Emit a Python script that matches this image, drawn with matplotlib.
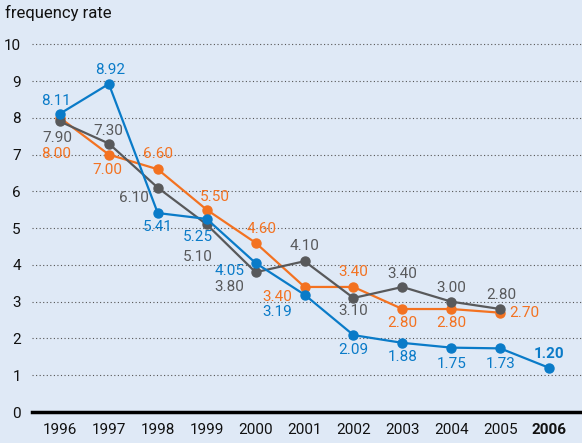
import matplotlib.pyplot as plt

plt.rcParams['font.family'] = ['Roboto', 'DejaVu Sans']

# --- data ---
years = [1996, 1997, 1998, 1999, 2000, 2001, 2002, 2003, 2004, 2005, 2006]
year_labels = [str(y) for y in years]

blue_vals = [8.11, 8.92, 5.41, 5.25, 4.05, 3.19, 2.09, 1.88, 1.75, 1.73, 1.20]
gray_vals = [7.90, 7.30, 6.10, 5.10, 3.80, 4.10, 3.10, 3.40, 3.00, 2.80]
orange_vals = [8.00, 7.00, 6.60, 5.50, 4.60, 3.40, 3.40, 2.80, 2.80, 2.70]

# label offsets in pixels (dx, dy) relative to each point
blue_off = [(-4, 13), (1, 14), (0, -14), (-9, -18), (-26, -8), (-27, -17),
            (0, -15), (0, -14), (0, -16), (0, -16), (0, 14)]
gray_off = [(-3, -17), (-1, 13), (-24, -10), (-9, -33), (-26, -15), (0, 15),
            (0, -13), (0, 13), (0, 14), (1, 14)]
orange_off = [(-4, -36), (-1, -15), (0, 15), (8, 13), (6, 14), (-27, -10),
              (0, 15), (0, -14), (0, -14), (9, 0)]

BLUE = '#0a7bc8'
GRAY = '#58595b'
ORANGE = '#f37221'
BG = '#dfe9f6'

fig = plt.figure(figsize=(5.82, 4.43), dpi=100)
fig.patch.set_facecolor(BG)
ax = fig.add_axes([32 / 582, 31 / 443, 550 / 582, 0.880])
ax.set_facecolor(BG)

series = [
    (orange_vals, ORANGE, orange_off),
    (gray_vals, GRAY, gray_off),
    (blue_vals, BLUE, blue_off),
]
for z, (vals, col, offs) in enumerate(series):
    xs = years[:len(vals)]
    ax.plot(xs, vals, color=col, lw=1.6, marker='o', ms=6.5, zorder=3 + z,
            clip_on=False)
    for i, (x, v) in enumerate(zip(xs, vals)):
        dx, dy = offs[i]
        ha = 'left' if (col == ORANGE and i == len(vals) - 1) else 'center'
        bold = (col == BLUE and i == len(vals) - 1)
        ax.annotate(f'{v:.2f}', (x, v), xytext=(dx, dy),
                    textcoords='offset pixels', ha=ha, va='center',
                    color=col, fontsize=11,
                    fontweight='bold' if bold else 'normal', zorder=10)

ax.set_xlim(1995.43, 2006.67)
ax.set_ylim(0, 10.6)
ax.set_yticks(range(0, 11))
ax.set_xticks(years)
ax.set_xticklabels(year_labels)
ax.get_xticklabels()[-1].set_fontweight('bold')
ax.tick_params(axis='both', length=0, labelsize=11, colors='#111111')
ax.tick_params(axis='y', pad=8)
ax.tick_params(axis='x', pad=8)

ax.yaxis.grid(True, linestyle=(0, (1, 2.2)), color='#555555', lw=0.8)
ax.set_axisbelow(True)
for s in ['top', 'right', 'left']:
    ax.spines[s].set_visible(False)
ax.spines['bottom'].set_color('black')
ax.spines['bottom'].set_linewidth(2.5)
ax.spines['bottom'].set_zorder(20)

fig.text(5 / 582, 1 - 13 / 443, 'frequency rate', fontsize=12,
         color='#111111', ha='left', va='center')

fig.savefig('out.png', dpi=100, facecolor=BG)
